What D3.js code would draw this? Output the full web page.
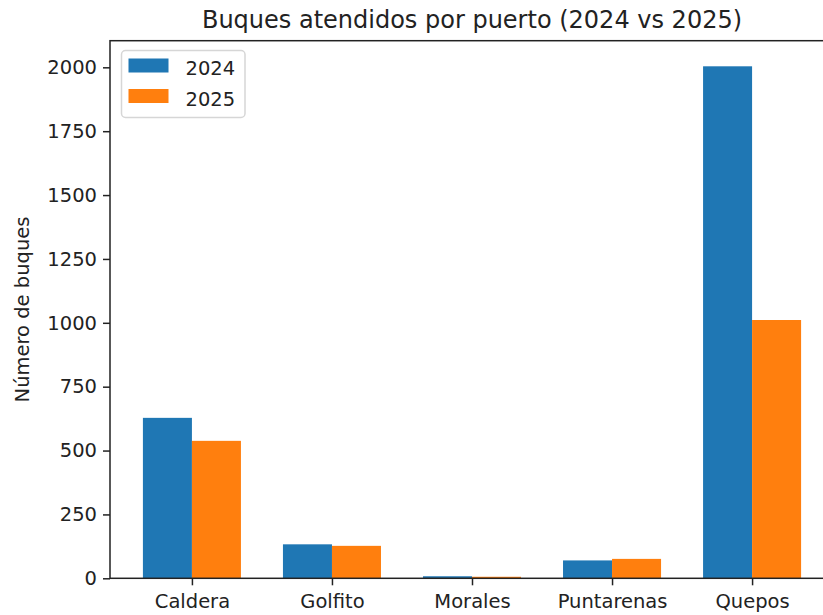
<!DOCTYPE html>
<html>
<head>
<meta charset="utf-8">
<script src="https://cdn.jsdelivr.net/npm/d3@7"></script>
<style>
  body { margin: 0; background: white; }
  svg text { font-family: "DejaVu Sans", sans-serif; fill: #222; }
</style>
</head>
<body>
<svg id="chart" width="823" height="615"></svg>
<script>
// data
let puertos = ['Caldera', 'Golfito', 'Morales', 'Puntarenas', 'Quepos']
let valores2024 = [628, 133, 8, 70, 2004]
let valores2025 = [538, 127, 6, 76, 1011]
let anios = ['2024', '2025']
let yTicks = [0, 250, 500, 750, 1000, 1250, 1500, 1750, 2000]

let colors = ['#1f77b4', '#ff7f0e']
let barW = 0.35

let plotLeft = 110, plotRight = 834, plotTop = 40.7, plotBottom = 578.3

var svg = d3.select('#chart')

// matplotlib-like 5% margins
let span = (puertos.length - 1) + 2 * barW
let x = d3.scaleLinear()
    .domain([-barW - 0.05 * span, puertos.length - 1 + barW + 0.05 * span])
    .range([plotLeft, plotRight])

let maxVal = d3.max(valores2024.concat(valores2025))
let y = d3.scaleLinear()
    .domain([0, maxVal * 1.05])
    .range([plotBottom, plotTop])

let series = [valores2024, valores2025]

series.forEach(function (vals, s) {
    svg.selectAll('.bar' + s)
        .data(vals)
        .enter().append('rect')
        .attr('fill', colors[s])
        .attr('x', function (d, i) { return x(i + (s - 1) * barW) })
        .attr('width', x(barW) - x(0))
        .attr('y', function (d) { return y(d) })
        .attr('height', function (d) { return plotBottom - y(d) })
})

// y axis
let yAxis = svg.append('g')
    .attr('transform', `translate(${plotLeft}, 0)`)
    .call(d3.axisLeft(y).tickValues(yTicks).tickFormat(d3.format('d'))
        .tickSizeOuter(0).tickSize(7).tickPadding(6))
yAxis.select('.domain').remove()
yAxis.selectAll('line').attr('stroke', '#222').attr('stroke-width', 1.5)
yAxis.selectAll('text').style('font-size', '19.5px').style('font-family', '"DejaVu Sans", sans-serif').attr('fill', '#222')

// x axis
let xAxis = svg.append('g')
    .attr('transform', `translate(0, ${plotBottom})`)
    .call(d3.axisBottom(x).tickValues(d3.range(puertos.length))
        .tickFormat(function (i) { return puertos[i] }).tickSize(7).tickPadding(9).tickSizeOuter(0))
xAxis.select('.domain').remove()
xAxis.selectAll('line').attr('stroke', '#222').attr('stroke-width', 1.5)
xAxis.selectAll('text').style('font-size', '19.5px').style('font-family', '"DejaVu Sans", sans-serif').attr('fill', '#222')

// spines
svg.append('rect')
    .attr('x', plotLeft).attr('y', plotTop)
    .attr('width', plotRight - plotLeft).attr('height', plotBottom - plotTop)
    .attr('fill', 'none').attr('stroke', '#222').attr('stroke-width', 1.5)

// title
svg.append('text')
    .attr('x', (plotLeft + plotRight) / 2)
    .attr('y', 28)
    .attr('text-anchor', 'middle')
    .style('font-size', '24px')
    .text('Buques atendidos por puerto (2024 vs 2025)')

// y label
svg.append('text')
    .attr('transform', 'rotate(-90)')
    .attr('x', -(plotTop + plotBottom) / 2)
    .attr('y', 29)
    .attr('text-anchor', 'middle')
    .style('font-size', '19.5px')
    .text('Número de buques')

// legend
let legend = svg.append('g').attr('transform', 'translate(121.5, 50.5)')
legend.append('rect')
    .attr('width', 123.5).attr('height', 67)
    .attr('rx', 4).attr('ry', 4)
    .attr('fill', 'white').attr('fill-opacity', 0.8)
    .attr('stroke', '#d6d6d6').attr('stroke-width', 1.5)

anios.forEach(function (a, i) {
    legend.append('rect')
        .attr('x', 7).attr('y', 8 + i * 30.5)
        .attr('width', 40).attr('height', 14)
        .attr('fill', colors[i])
    legend.append('text')
        .attr('x', 64).attr('y', 24.5 + i * 30.5)
        .style('font-size', '19.5px')
        .text(a)
})
</script>
</body>
</html>
